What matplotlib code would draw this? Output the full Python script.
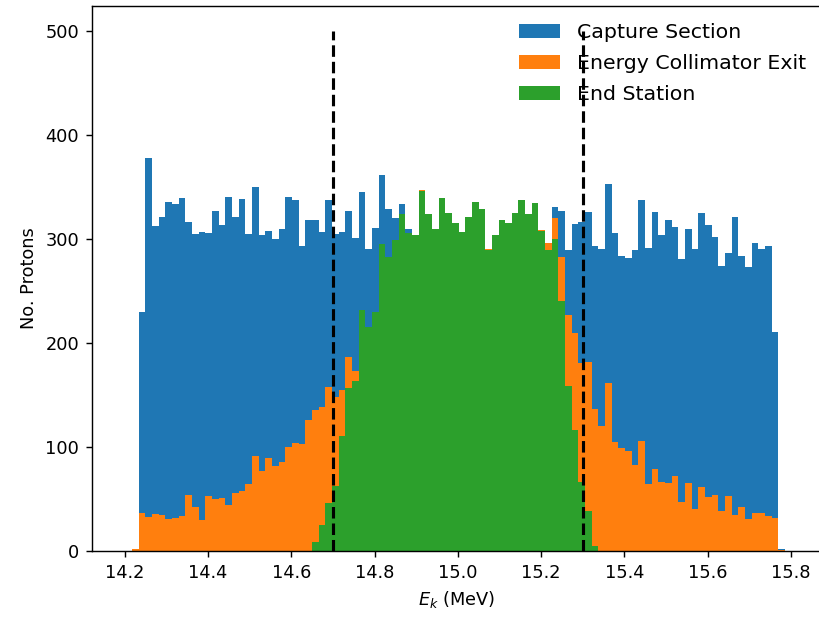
import numpy as np
import matplotlib
matplotlib.use("Agg")
import matplotlib.pyplot as plt

# Гистограммы энергии протонов: 98 бинов по 0.016 МэВ
bin_start = 14.2175
bin_width = 0.016
n_bins = 98

# Счёт протонов в каждом бине
capture_counts = [
    2, 230, 378, 313, 322, 336, 334, 340, 317, 305,
    307, 306, 327, 314, 341, 322, 339, 305, 350, 304,
    308, 300, 310, 341, 338, 294, 319, 319, 307, 338,
    305, 307, 327, 301, 346, 291, 311, 362, 329, 321,
    334, 310, 304, 348, 324, 310, 340, 325, 316, 307,
    322, 336, 329, 291, 304, 319, 316, 325, 338, 324,
    335, 309, 297, 331, 327, 290, 315, 317, 326, 294,
    291, 353, 306, 284, 282, 290, 338, 292, 326, 304,
    319, 312, 281, 310, 291, 325, 314, 302, 274, 287,
    322, 284, 273, 297, 291, 294, 211, 2,
]

collimator_counts = [
    2, 37, 33, 36, 35, 31, 32, 34, 54, 43,
    30, 53, 50, 51, 45, 56, 58, 65, 92, 77,
    90, 82, 86, 100, 104, 103, 126, 136, 139, 158,
    148, 155, 187, 173, 232, 216, 230, 296, 283, 299,
    324, 306, 304, 348, 324, 310, 340, 325, 316, 307,
    322, 336, 329, 291, 304, 319, 316, 325, 338, 324,
    335, 309, 297, 321, 283, 227, 210, 181, 182, 137,
    121, 162, 105, 99, 96, 83, 106, 65, 79, 67,
    66, 72, 47, 66, 41, 62, 52, 54, 39, 53,
    35, 43, 31, 37, 37, 34, 32, 1,
]

end_station_counts = [
    0, 0, 0, 0, 0, 0, 0, 0, 0, 0,
    0, 0, 0, 0, 0, 0, 0, 0, 0, 0,
    0, 0, 0, 0, 0, 0, 0, 9, 25, 46,
    63, 111, 157, 164, 232, 216, 230, 296, 283, 299,
    324, 306, 304, 347, 324, 310, 340, 325, 316, 307,
    322, 336, 329, 290, 304, 319, 316, 325, 338, 324,
    335, 308, 290, 300, 241, 159, 117, 67, 39, 5,
    0, 0, 0, 0, 0, 0, 0, 0, 0, 0,
    0, 0, 0, 0, 0, 0, 0, 0, 0, 0,
    0, 0, 0, 0, 0, 0, 0, 0,
]

labels = ["Capture Section", "Energy Collimator Exit", "End Station"]

# Окно отбора по энергии
e_cut_low = 14.7
e_cut_high = 15.3
cut_height = 500


def main():
    edges = bin_start + bin_width * np.arange(n_bins + 1)
    centers = edges[:-1] + bin_width / 2

    fig = plt.figure(figsize=(819 / 128, 617 / 128), dpi=128)
    # правая граница осей чуть за краем картинки
    ax = fig.add_axes([91.7 / 819, 65.7 / 617, 729.3 / 819, 545.8 / 617])

    for counts, label in zip(
        [capture_counts, collimator_counts, end_station_counts], labels
    ):
        ax.hist(centers, bins=edges, weights=counts, label=label)

    ax.vlines([e_cut_low, e_cut_high], 0, cut_height, colors="black",
              linestyles="--", linewidth=1.75, zorder=6)

    ax.set_xlim(14.1208, 15.8718)
    ax.set_ylim(0, 525)
    ax.set_xticks(np.arange(14.2, 15.81, 0.2))
    ax.set_xlabel("$E_k$ (MeV)")
    ax.set_ylabel("No. Protons")

    leg = ax.legend(loc="upper right", bbox_to_anchor=(1.003, 1.0),
                    frameon=False, fontsize=11.5,
                    borderaxespad=0.45, labelspacing=0.6)
    leg.set_zorder(1)

    fig.savefig("out.png", dpi=128)


if __name__ == "__main__":
    main()
